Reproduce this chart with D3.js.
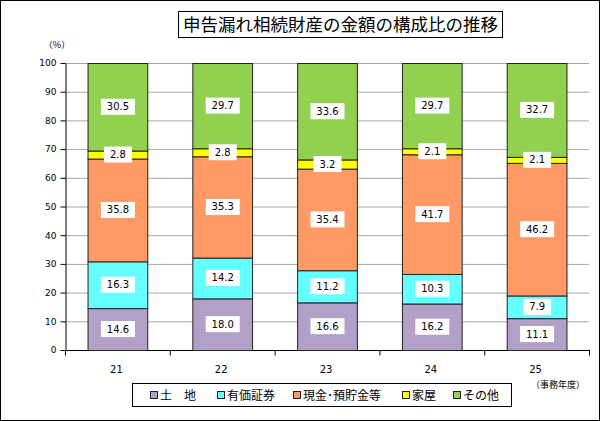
<!DOCTYPE html>
<html><head><meta charset="utf-8">
<script src="https://cdn.jsdelivr.net/npm/d3@7"></script>
<style>body{margin:0;background:#fff}svg{display:block}</style>
</head><body><svg id="c" width="600" height="421"></svg>
<script>
const categories = ["21","22","23","24","25"];
const seriesNames = ["土　地","有価証券","現金･預貯金等","家屋","その他"];
const land   = [14.6,18.0,16.6,16.2,11.1];
const stocks = [16.3,14.2,11.2,10.3,7.9];
const cash   = [35.8,35.3,35.4,41.7,46.2];
const house  = [2.8,2.8,3.2,2.1,2.1];
const other  = [30.5,29.7,33.6,29.7,32.7];
const yTicks = [0,10,20,30,40,50,60,70,80,90,100];
const colors = ["#B1A0C7","#66FFFF","#FF9966","#FFFF00","#92D050"];

const svg = d3.select("#c");
const jp = "'Noto Sans CJK JP', sans-serif";
const num = "'DejaVu Sans', sans-serif";
svg.append("rect").attr("x",0.5).attr("y",0.5).attr("width",599).attr("height",420).attr("fill","#fff").attr("stroke","#000");

const pL=65,pR=589,pT=63,pB=350;
const x = d3.scaleBand().domain(categories).range([pL,pR]).paddingInner(0.43).paddingOuter(0.215);
const y = d3.scaleLinear().domain([0,100]).range([pB,pT]);

// gridlines
svg.append("g").selectAll("line").data(yTicks.filter(d=>d>0)).join("line")
  .attr("x1",pL).attr("x2",pR).attr("y1",d=>y(d)+0.5).attr("y2",d=>y(d)+0.5)
  .attr("stroke","#A6A6A6").attr("stroke-width",1);

// y axis
const ya = svg.append("g").attr("transform",`translate(${pL+0.5},0)`)
  .call(d3.axisLeft(y).tickValues(yTicks).tickSize(5).tickPadding(4).tickSizeOuter(0));
ya.select(".domain").attr("stroke","#000");
ya.selectAll(".tick line").attr("stroke","#000");
ya.selectAll("text").attr("font-family",num).attr("font-size",9).attr("fill","#000");

// x axis
const band = (pR-pL)/categories.length;
const xa = svg.append("g").attr("transform",`translate(0,${pB+0.5})`);
xa.append("line").attr("x1",pL).attr("x2",pR+1).attr("stroke","#000");
xa.selectAll("line.t").data(d3.range(categories.length+1)).join("line").attr("class","t")
  .attr("x1",i=>pL+i*band+0.5).attr("x2",i=>pL+i*band+0.5).attr("y1",0).attr("y2",5).attr("stroke","#000");
xa.selectAll("text").data(categories).join("text")
  .attr("x",d=>x(d)+x.bandwidth()/2-1).attr("y",22).attr("text-anchor","middle")
  .attr("font-family",num).attr("font-size",10).attr("fill","#000").text(d=>d);

// stacked data
const rows = categories.map((c,i)=>({cat:c, s0:land[i], s1:stocks[i], s2:cash[i], s3:house[i], s4:other[i]}));
const stack = d3.stack().keys(["s0","s1","s2","s3","s4"])(rows);
const g = svg.append("g");
stack.forEach((layer,k)=>{
  g.selectAll(null).data(layer).join("rect")
    .attr("x",d=>x(d.data.cat)+0.5).attr("width",x.bandwidth())
    .attr("y",d=>y(d[1])+0.5).attr("height",d=>y(d[0])-y(d[1]))
    .attr("fill",colors[k]).attr("stroke","#222").attr("stroke-width",1);
});
stack.forEach((layer,k)=>{
  layer.forEach(d=>{
    const v = d[1]-d[0];
    const cx = x(d.data.cat)+x.bandwidth()/2+0.5;
    const cy = (y(d[0])+y(d[1]))/2;
    const t = v.toFixed(1);
    const w = t.length*6+10;
    g.append("rect").attr("x",cx-w/2).attr("y",cy-8).attr("width",w).attr("height",16).attr("fill","#fff");
    g.append("text").attr("x",cx).attr("y",cy+3.5).attr("text-anchor","middle")
      .attr("font-family",num).attr("font-size",10).attr("fill","#000").text(t);
  });
});

// (%)
svg.append("text").attr("x",57).attr("y",48).attr("text-anchor","middle").attr("font-family",jp).attr("font-size",9).text("（%）");

// title
svg.append("rect").attr("x",178.5).attr("y",11.5).attr("width",324).attr("height",26).attr("fill","#fff").attr("stroke","#000");
svg.append("text").attr("x",340.5).attr("y",31).attr("text-anchor","middle").attr("font-family",jp).attr("font-size",17.5).attr("fill","#000").text("申告漏れ相続財産の金額の構成比の推移");

// unit
svg.append("text").attr("x",558).attr("y",388).attr("text-anchor","middle").attr("font-family",jp).attr("font-size",9).text("（事務年度）");

// legend
svg.append("rect").attr("x",132.5).attr("y",383.5).attr("width",379).attr("height",23).attr("fill","#fff").attr("stroke","#000");
const legX = [150,217,293,402,453];
const lg = svg.append("g").selectAll("g").data(seriesNames).join("g").attr("transform",(d,i)=>`translate(${legX[i]},395)`);
lg.append("rect").attr("x",0.5).attr("y",-3.5).attr("width",7).attr("height",7).attr("fill",(d,i)=>colors[i]).attr("stroke","#222");
lg.append("text").attr("x",10).attr("y",4.5).attr("font-family",jp).attr("font-size",12).attr("fill","#000").text(d=>d);
</script></body></html>
